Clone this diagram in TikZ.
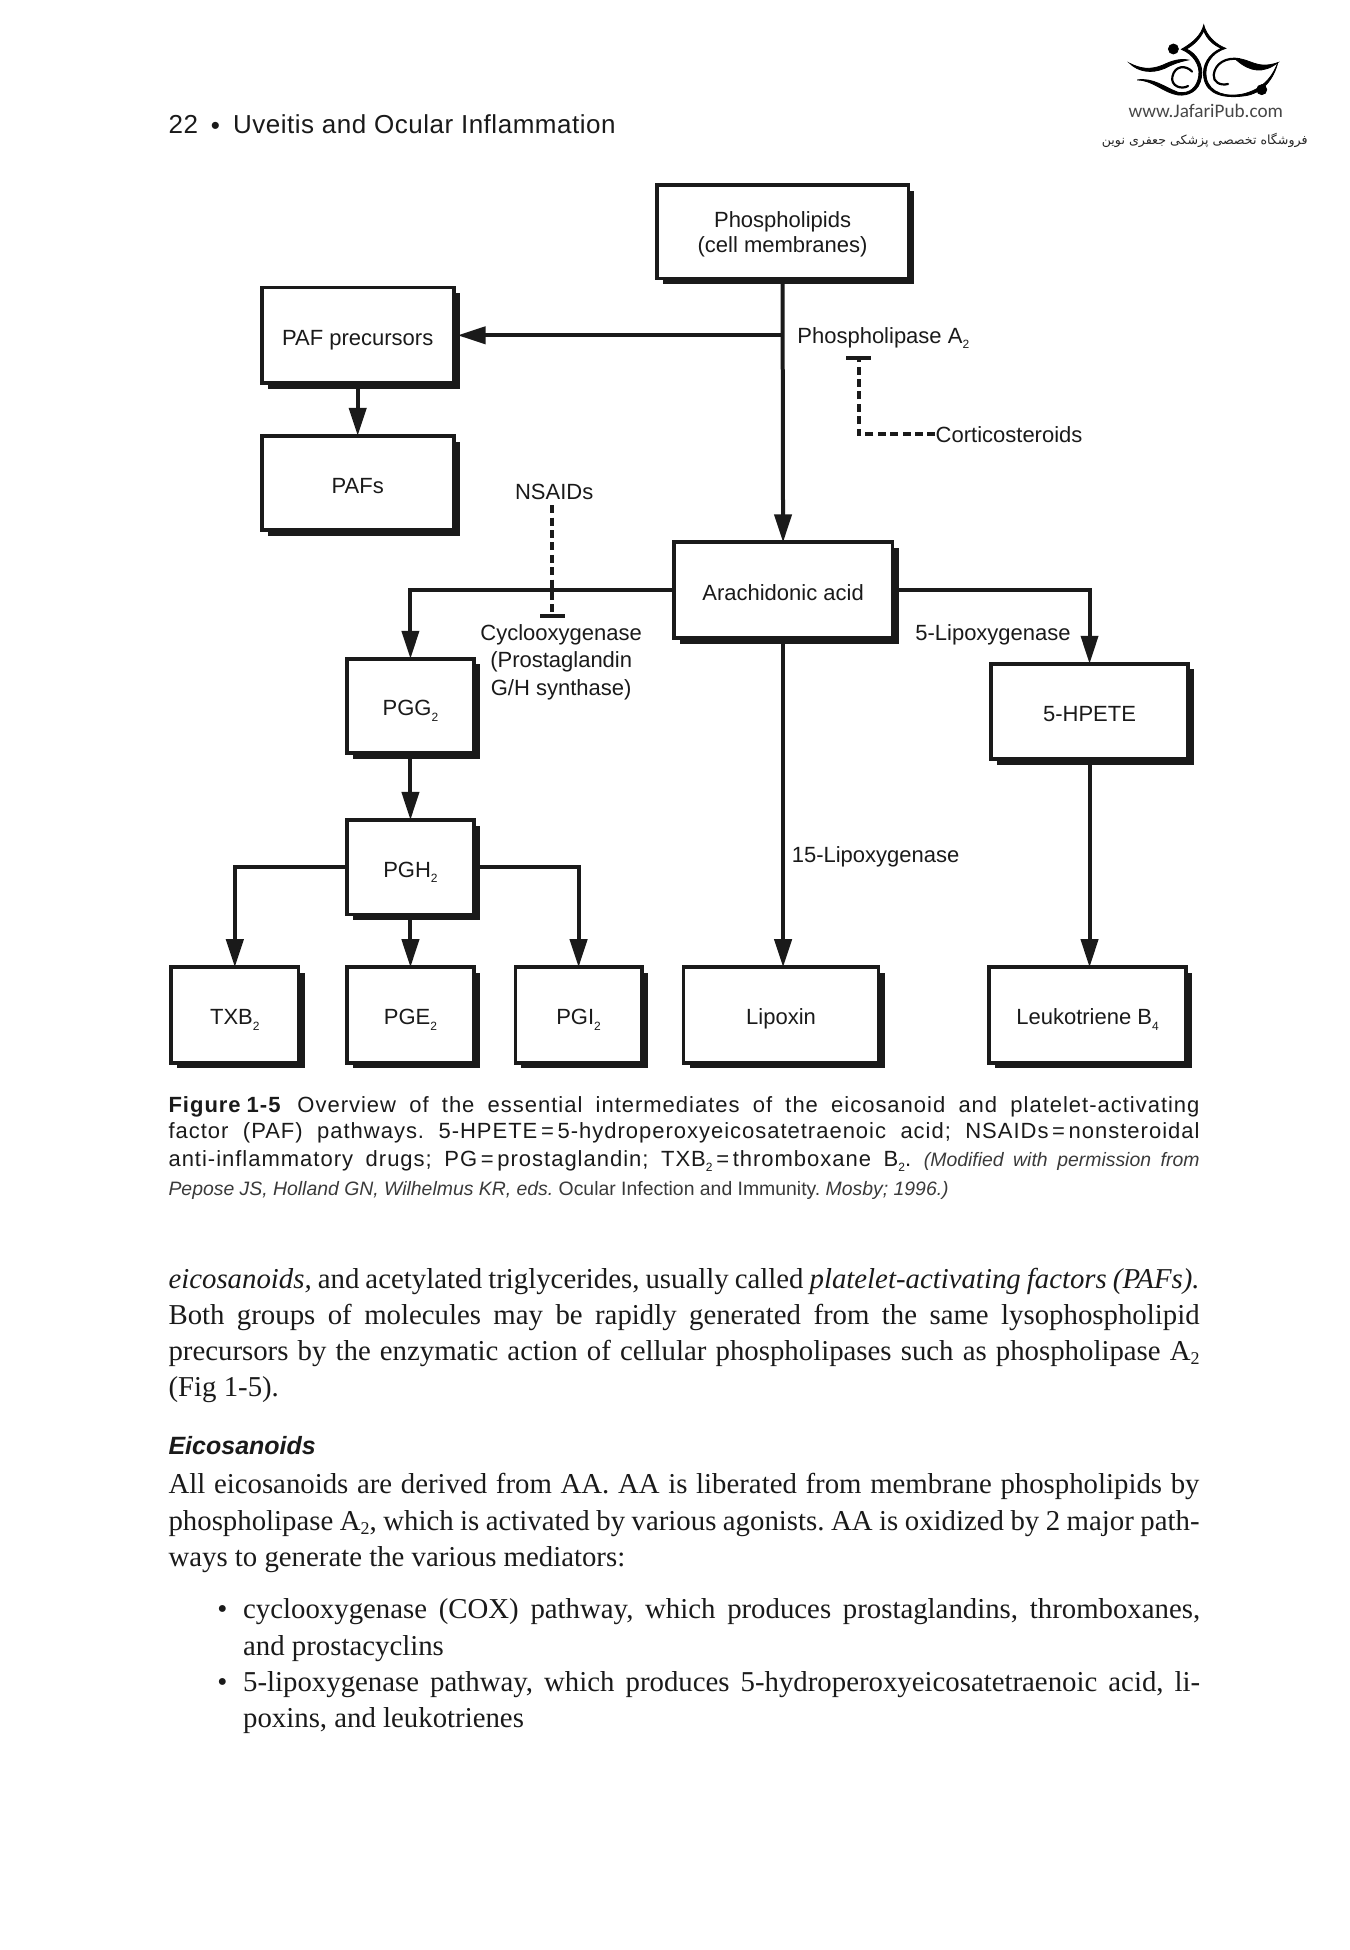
\documentclass[tikz,border=0pt]{standalone}
\usepackage{fontspec}
\setmainfont{Liberation Serif}
\setsansfont{Liberation Sans}
\newfontfamily\arabicfont[Script=Arabic]{DejaVu Sans}
\newfontfamily\logofont{Carlito}
\newfontfamily\capfont[LetterSpace=4.5]{Liberation Sans}
\newfontfamily\headfont[LetterSpace=2]{Liberation Sans}
\TeXXeTstate=1
\frenchspacing
\usetikzlibrary{arrows.meta,shadows}
\definecolor{ink}{HTML}{1A1A1A}
\definecolor{capgray}{HTML}{3A3A3A}
\tikzset{
  flowbox/.style={draw=ink,fill=white,line width=1.9pt,inner sep=0pt,align=center,text=ink,
    font=\sffamily\fontsize{11}{11}\selectfont,
    general shadow={fill=ink,shadow xshift=3pt,shadow yshift=-2.9pt}},
  singleline/.style={text height=12pt,text depth=2pt},
  lab/.style={inner sep=0pt,text=ink,font=\sffamily\fontsize{11}{11}\selectfont,align=center},
  conn/.style={draw=ink,line width=2pt,shorten >=-1pt,-{Triangle[length=14pt,width=8.5pt]}},
  inhib/.style={draw=ink,line width=2pt,dash pattern=on 4pt off 2.2pt,-{Bar[width=12.5pt,line width=1.8pt]}},
  capline/.style={anchor=base west,inner sep=0pt,text=ink,font=\capfont\fontsize{11}{12}\selectfont},
  bodyline/.style={anchor=base west,inner sep=0pt,text=ink,font=\rmfamily\fontsize{14.4}{15}\selectfont},
  logostroke/.style={draw=black,line width=1.1pt,line cap=round},
  logofill/.style={fill=black,draw=black,line width=0.4pt}
}
\newcommand\bbox[6]{\node[flowbox,singleline,minimum width={(#4-#2)*0.4975pt},minimum height={(#5-#3)*0.4975pt}] (#1) at ({(#2+#4)/2},{(#3+#5)/2}) {#6};}
\newcommand\lsub[1]{\raisebox{-0.45ex}{\fontsize{6}{6}\selectfont #1}}
\newcommand\bsub[1]{\raisebox{-0.35ex}{\fontsize{9}{9}\selectfont #1}}
\newcommand\jline[1]{\makebox[515.5pt][s]{#1}}
\newcommand\jlineb[1]{\makebox[478.5pt][s]{#1}}
\begin{document}
\begin{tikzpicture}[x=0.4975pt,y=-0.4975pt]
\useasboundingbox[fill=white] (0,0) rectangle (1356.78,1959.8);

% logo
\begin{scope}[shift={(1055,0)},x=0.16667pt,y=-0.16667pt]
  \fill[logofill] (371,147) circle (15);
  \fill[logofill] (636,269) circle (15);
  \fill[logofill] (395,148) .. controls (430,128) and (455,105) .. (462,75)
     .. controls (470,108) and (500,135) .. (528,145)
     .. controls (485,158) and (462,195) .. (470,235)
     .. controls (480,280) and (530,292) .. (580,282)
     .. controls (630,270) and (665,240) .. (684,188)
     .. controls (672,235) and (640,282) .. (580,288)
     .. controls (525,295) and (470,285) .. (462,232)
     .. controls (456,195) and (478,160) .. (515,145)
     .. controls (490,135) and (470,115) .. (462,92)
     .. controls (452,115) and (432,135) .. (410,147)
     .. controls (440,160) and (462,195) .. (455,232)
     .. controls (448,275) and (415,288) .. (385,285)
     .. controls (340,278) and (310,240) .. (262,240)
     .. controls (310,232) and (345,262) .. (385,277)
     .. controls (420,283) and (442,262) .. (447,228)
     .. controls (452,195) and (430,162) .. (395,148) -- cycle;
  \fill[logofill] (240,190) .. controls (270,205) and (300,212) .. (340,195)
     .. controls (365,183) and (390,175) .. (415,180)
     .. controls (390,185) and (370,192) .. (345,205)
     .. controls (305,222) and (265,215) .. (240,190) -- cycle;
  \draw[logostroke] (427,215) .. controls (410,195) and (375,195) .. (368,230)
     .. controls (362,258) and (395,270) .. (415,258);
  \draw[logostroke] (570,178) .. controls (530,170) and (495,190) .. (492,225)
     .. controls (490,245) and (510,258) .. (535,252);
  \fill[logofill] (560,176) .. controls (600,175) and (620,210) .. (684,188)
     .. controls (640,222) and (600,215) .. (560,180) -- cycle;
  \node[inner sep=0pt,text=black!72,font=\logofont\fontsize{9.6}{10}\selectfont] (logourl) at (468,333) {www.JafariPub.com};
  \node[inner sep=0pt,text=black!85,font=\arabicfont\fontsize{6.3}{8}\selectfont] (logofa) at (465,422) {\beginR فروشگاه تخصصی پزشکی جعفری نوین\endR};
\end{scope}

% header
\node[anchor=base west,inner sep=0pt,text=ink,font=\headfont\fontsize{13}{14}\selectfont] (header) at (169,134) {22\hspace{6.5pt}\raisebox{-0.05ex}{\fontsize{13}{13}\selectfont•}\hspace{6.5pt}Uveitis and Ocular Inflammation};

% boxes
\node[flowbox,minimum width={253*0.4975pt},minimum height={94*0.4975pt}] (phos) at (786.5,233) {\rule{0pt}{10.5pt}Phospholipids\\[1.8pt](cell membranes)};
\bbox{paf}{263}{289}{456}{385}{PAF precursors}
\bbox{pafs}{263}{438}{456}{533}{PAFs}
\bbox{arach}{677}{545}{897}{641}{Arachidonic acid}
\bbox{pgg}{349}{662}{476}{757}{PGG\lsub{2}}
\bbox{pgh}{349}{824}{476}{919}{PGH\lsub{2}}
\bbox{hpete}{996}{667}{1194}{763}{5-HPETE}
\bbox{txb}{172}{972}{300}{1068}{TXB\lsub{2}}
\bbox{pge}{349}{972}{476}{1068}{PGE\lsub{2}}
\bbox{pgi}{518}{972}{645}{1068}{PGI\lsub{2}}
\bbox{lipo}{687}{972}{883}{1068}{Lipoxin}
\bbox{leuko}{994}{972}{1192}{1068}{Leukotriene B\lsub{4}}

% connectors
\coordinate (jpaf) at (phos.south |- paf.east);
\coordinate (jpgleft) at (pgg.north |- arach.west);
\coordinate (jhright) at (hpete.north |- arach.east);
\draw[conn] (phos.south) -- (arach.north);
\draw[conn] (jpaf) -- ([xshift=2pt]paf.east);
\draw[conn] (paf.south) -- (pafs.north);
\draw[conn] (arach.west) -- (jpgleft) -- (pgg.north);
\draw[conn] (arach.east) -- (jhright) -- (hpete.north);
\draw[conn] (arach.south) -- (arach.south |- lipo.north);
\draw[conn] (pgg.south) -- (pgh.north);
\draw[conn] (pgh.west) -| (txb.north);
\draw[conn] (pgh.south) -- (pge.north);
\draw[conn] (pgh.east) -| (pgi.north);
\draw[conn] (hpete.south) -- (hpete.south |- leuko.north);

% labels
\node[lab,anchor=west] (pla2) at (801,339.5) {Phospholipase A\lsub{2}};
\node[lab,anchor=west] (cort) at (940,436.5) {Corticosteroids};
\node[lab] (nsaids) at (557,494.5) {NSAIDs};
\node[lab] (lox5) at (998,638.5) {5-Lipoxygenase};
\node[lab] (lox15) at (880,861.5) {15-Lipoxygenase};
\node[lab,font=\sffamily\fontsize{11}{13.6}\selectfont] (cox) at (564,665.5) {Cyclooxygenase\\(Prostaglandin\\G/H synthase)};

\coordinate (plabar) at (863,358);
\coordinate (coxbar) at (555,621);
\draw[inhib] (cort.west) -| (plabar);
\draw[inhib] ([yshift=-2.5pt]nsaids.south -| coxbar) -- (coxbar);

% caption
\node[capline] (cap1) at (169,1118) {\jline{\textbf{Figure\hspace{3pt}1-5}\hspace{8pt}Overview of the essential intermediates of the eicosanoid and platelet-activating}};
\node[capline] (cap2) at (169,1144) {\jline{factor (PAF) pathways. 5-HPETE\,=\,5-hydroperoxyeicosatetraenoic acid; NSAIDs\,=\,nonsteroidal}};
\node[capline] (cap3) at (169,1172.5) {\jline{anti-inflammatory drugs; PG\,=\,prostaglandin; TXB\lsub{2}\,=\,thromboxane B\lsub{2}. {\color{capgray}\sffamily\itshape\fontsize{9.7}{11}\selectfont (Modified with permission from}}};
\node[capline,text=capgray,font=\sffamily\fontsize{9.7}{11}\selectfont] (cap4) at (169,1201) {\textit{Pepose JS, Holland GN, Wilhelmus KR, eds.} Ocular Infection and Immunity. \textit{Mosby; 1996.)}};

% body
\node[bodyline] (b1) at (169,1295) {\jline{\textit{eicosanoids,} and acetylated triglycerides, usually called \textit{platelet-activating factors (PAFs).}}};
\node[bodyline] (b2) at (169,1331) {\jline{Both groups of molecules may be rapidly generated from the same lysophospholipid}};
\node[bodyline] (b3) at (169,1367) {\jline{precursors by the enzymatic action of cellular phospholipases such as phospholipase A\bsub{2}}};
\node[bodyline] (b4) at (169,1404) {(Fig 1-5).};
\node[anchor=base west,inner sep=0pt,text=ink,font=\sffamily\bfseries\itshape\fontsize{12.5}{13}\selectfont] (eico) at (169,1462) {Eicosanoids};
\node[bodyline] (b5) at (169,1501) {\jline{All eicosanoids are derived from AA. AA is liberated from membrane phospholipids by}};
\node[bodyline] (b6) at (169,1538) {\jline{phospholipase A\bsub{2}, which is activated by various agonists. AA is oxidized by 2 major path-}};
\node[bodyline] (b7) at (169,1574) {ways to generate the various mediators:};
\node[bodyline] (bul1) at (218,1627) {•};
\node[bodyline] (b8) at (244,1627) {\jlineb{cyclooxygenase (COX) pathway, which produces prostaglandins, thromboxanes,}};
\node[bodyline] (b9) at (244,1664) {and prostacyclins};
\node[bodyline] (bul2) at (218,1700) {•};
\node[bodyline] (b10) at (244,1700) {\jlineb{5-lipoxygenase pathway, which produces 5-hydroperoxyeicosatetraenoic acid, li-}};
\node[bodyline] (b11) at (244,1736) {poxins, and leukotrienes};
\end{tikzpicture}
\end{document}
